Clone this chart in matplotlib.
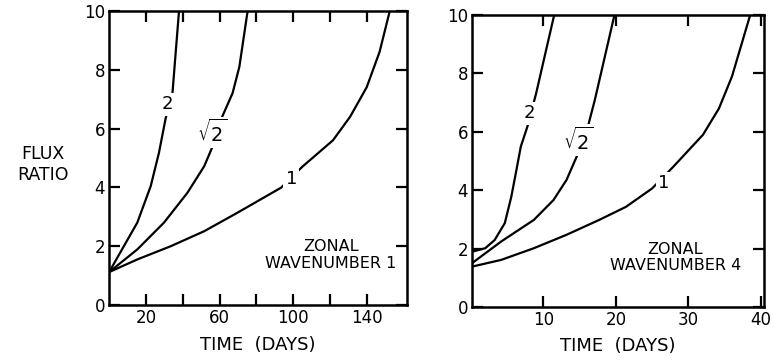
import matplotlib.pyplot as plt

# values
left_t1 = [0, 15.3, 33.5, 51.7, 69.8, 93.5, 105, 121.7, 131, 140, 147, 152.6]
left_f1 = [1.12, 1.55, 2.0, 2.51, 3.14, 3.99, 4.7, 5.6, 6.4, 7.4, 8.6, 10]
left_tr2 = [0, 15.3, 29.8, 42.6, 51.7, 55.7, 61.6, 67.1, 70.8, 75.3]
left_fr2 = [1.12, 1.89, 2.8, 3.82, 4.72, 5.31, 6.42, 7.2, 8.1, 10]
left_t2 = [0, 8, 15.3, 22.6, 27.1, 30.8, 34.3, 36.2, 38]
left_f2 = [1.12, 2.0, 2.8, 4.04, 5.18, 6.37, 7.1, 8.6, 10]

right_t1 = [0.2, 4.2, 8.7, 13.2, 17.7, 21.4, 25.0, 27.9, 32.0, 34.2, 36.0, 38.5]
right_f1 = [1.38, 1.61, 2.01, 2.47, 2.98, 3.43, 4.06, 4.8, 5.9, 6.8, 7.9, 10]
right_tr2 = [0.2, 4.2, 8.7, 11.4, 13.2, 14.6, 16.2, 17.1, 19.8]
right_fr2 = [1.5, 2.24, 2.98, 3.66, 4.35, 5.15, 6.23, 7.09, 10]
right_t2 = [0.2, 2.0, 3.3, 4.7, 5.6, 6.3, 6.9, 7.8, 9.0, 10.2, 11.5]
right_f2 = [1.89, 2.01, 2.29, 2.87, 3.78, 4.69, 5.49, 6.17, 7.3, 8.6, 10]

left_xticks = [20, 40, 60, 80, 100, 120, 140]
left_xlabels = ['20', '', '60', '', '100', '', '140']
right_xticks = [10, 20, 30, 40]
right_xlabels = ['10', '20', '30', '40']
yticks = [0, 2, 4, 6, 8, 10]

plt.rcParams['font.family'] = 'DejaVu Sans'

fig = plt.figure(figsize=(7.74, 3.61), dpi=100)
ax1 = fig.add_axes([0.141, 0.155, 0.385, 0.815])
ax2 = fig.add_axes([0.610, 0.150, 0.377, 0.808])

lab = dict(fontsize=13, ha='center', va='center',
           bbox=dict(facecolor='white', edgecolor='none', pad=1.5))


def style(ax, xlim, xticks, xlabels):
    ax.set_xlim(*xlim)
    ax.set_ylim(0, 10)
    ax.set_xticks(xticks)
    ax.set_xticklabels(xlabels, fontsize=12)
    ax.set_yticks(yticks)
    ax.set_yticklabels([str(v) for v in yticks], fontsize=12)
    ax.tick_params(direction='in', length=8, width=1.6, top=True,
                   right=True, pad=3)
    for s in ax.spines.values():
        s.set_linewidth(1.8)
    ax.set_xlabel('TIME  (DAYS)', fontsize=13, labelpad=6)


for ax, data in [(ax1, [(left_t1, left_f1), (left_tr2, left_fr2),
                        (left_t2, left_f2)]),
                 (ax2, [(right_t1, right_f1), (right_tr2, right_fr2),
                        (right_t2, right_f2)])]:
    for t, f in data:
        ax.plot(t, f, color='black', lw=1.6, solid_joinstyle='round')

style(ax1, (0, 162), left_xticks, left_xlabels)
style(ax2, (0.2, 40.4), right_xticks, right_xlabels)

ax1.text(31.6, 6.82, '2', **lab)
ax1.text(56.2, 5.86, r'$\sqrt{2}$', fontsize=14, ha='center', va='center',
         bbox=dict(facecolor='white', edgecolor='none', pad=1.5))
ax1.text(99, 4.27, '1', **lab)
ax1.text(120.5, 1.7, 'ZONAL\nWAVENUMBER 1', fontsize=11.5, ha='center',
         va='center', linespacing=1.1)

ax2.text(8.1, 6.63, '2', **lab)
ax2.text(14.8, 5.72, r'$\sqrt{2}$', fontsize=14, ha='center', va='center',
         bbox=dict(facecolor='white', edgecolor='none', pad=1.5))
ax2.text(26.6, 4.25, '1', **lab)
ax2.text(28.2, 1.7, 'ZONAL\nWAVENUMBER 4', fontsize=11.5, ha='center',
         va='center', linespacing=1.1)

fig.text(0.055, 0.545, 'FLUX\nRATIO', fontsize=12.5, ha='center',
         va='center', linespacing=1.2)

fig.savefig('out.png', dpi=100)
